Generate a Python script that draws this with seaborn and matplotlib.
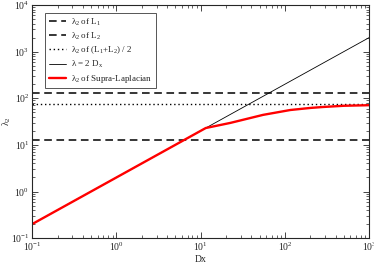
import numpy as np
import pandas as pd
import matplotlib
matplotlib.use('Agg')
import matplotlib.pyplot as plt
import seaborn as sns

# valores
dx_span = [0.1, 1000]
lam_L1 = 12.5
lam_L2 = 130
lam_avg = 75
lam_2dx = [0.2, 2000]
dx_supra = [0.1, 11.5, 22.5, 55, 116, 200, 284, 500, 1000]
lam_supra = [0.2, 23, 29.6, 44, 56, 62, 65, 69, 71]

sns.set_style('ticks')
plt.rcParams['font.family'] = ['Liberation Serif', 'DejaVu Serif']
plt.rcParams['mathtext.fontset'] = 'custom'
plt.rcParams['mathtext.rm'] = 'Liberation Serif'
plt.rcParams['mathtext.it'] = 'Liberation Serif'

fig = plt.figure(figsize=(3.74, 2.64), dpi=100)
ax = fig.add_axes([0.086, 0.098, 0.901, 0.883])

sns.lineplot(x=dx_span, y=[lam_L1, lam_L1], ax=ax, color='black', lw=1.1,
             label=r'$\lambda_2$ of L$_1$')
sns.lineplot(x=dx_span, y=[lam_L2, lam_L2], ax=ax, color='black', lw=1.1,
             label=r'$\lambda_2$ of L$_2$')
sns.lineplot(x=dx_span, y=[lam_avg, lam_avg], ax=ax, color='black', lw=1.0,
             label=r'$\lambda_2$ of (L$_1$+L$_2$) / 2')
sns.lineplot(x=dx_span, y=lam_2dx, ax=ax, color='black', lw=0.6,
             label=r'$\lambda$ = 2 D$_\mathrm{x}$')
sns.lineplot(x=dx_supra, y=lam_supra, ax=ax, color='red', lw=1.7,
             label=r'$\lambda_2$ of Supra-Laplacian')

lines = ax.get_lines()
lines[0].set_dashes([5, 3])
lines[1].set_dashes([5, 3])
lines[2].set_dashes([1, 2])

ax.set_xscale('log')
ax.set_yscale('log')
ax.set_xlim(0.1, 1000)
ax.set_ylim(0.1, 10000)
ax.set_xlabel('Dx', fontsize=7, labelpad=1)
ax.set_ylabel(r'$\lambda_2$', fontsize=7)
ax.yaxis.set_label_coords(-0.056, 0.5)
ax.tick_params(which='both', direction='in', top=True, right=True, labelsize=7, pad=2)
ax.tick_params(which='major', length=4, width=0.6)
ax.tick_params(which='minor', length=2, width=0.5)
for s in ax.spines.values():
    s.set_linewidth(0.8)

leg = ax.legend(loc='upper left', fontsize=6.5, frameon=True, fancybox=False,
                edgecolor='#555555', framealpha=1, borderpad=0.4,
                handlelength=1.9, handletextpad=0.6, labelspacing=0.3,
                bbox_to_anchor=(0.025, 0.985))
leg.get_frame().set_linewidth(0.7)

fig.savefig('out.png', dpi=100)
